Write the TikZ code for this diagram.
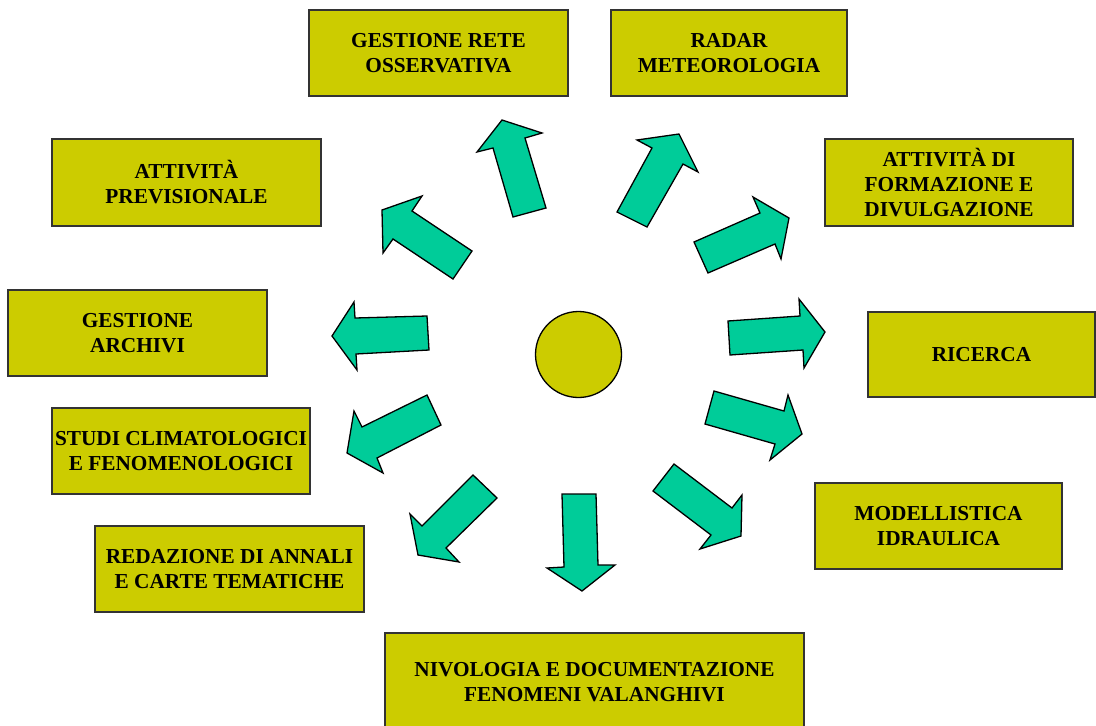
\documentclass[tikz,border=0pt]{standalone}
\usepackage{fontspec}
\setmainfont{Liberation Serif}
\definecolor{boxfill}{RGB}{204,204,0}
\definecolor{arrfill}{RGB}{0,204,153}
\begin{document}
\begin{tikzpicture}[x=1pt,y=-1pt,
  box/.style={draw=black!80, line width=1.4pt, fill=boxfill, inner sep=0pt,
    align=center, font=\fontsize{21.3}{25}\selectfont\bfseries},
  blockarrow/.style={draw=black, line width=1.3pt, fill=arrfill, line join=miter}]
\useasboundingbox (0,0) rectangle (1096,726);
\clip (0,0) rectangle (1096,726);
\fill[white] (0,0) rectangle (1096,726);
% boxes
\node[box, minimum width=259pt, minimum height=86pt] (gro) at (438.5,53) {GESTIONE RETE\\OSSERVATIVA};
\node[box, minimum width=236pt, minimum height=86pt] (radar) at (729,53) {RADAR\\METEOROLOGIA};
\node[box, minimum width=269pt, minimum height=87pt] (prev) at (186.5,182.5) {ATTIVITÀ\\PREVISIONALE};
\node[box, minimum width=248pt, minimum height=87pt] (form) at (949,182.5) {ATTIVITÀ DI\\FORMAZIONE E\\DIVULGAZIONE};
\node[box, minimum width=259pt, minimum height=86pt] (arch) at (137.5,333) {GESTIONE\\ARCHIVI};
\node[box, minimum width=227pt, minimum height=85pt] (ric) at (981.5,354.5) {RICERCA};
\node[box, minimum width=258pt, minimum height=86pt] (studi) at (181,451) {STUDI CLIMATOLOGICI\\E FENOMENOLOGICI};
\node[box, minimum width=247pt, minimum height=86pt] (mod) at (938.5,526) {MODELLISTICA\\IDRAULICA};
\node[box, minimum width=269pt, minimum height=86pt] (red) at (229.5,569) {REDAZIONE DI ANNALI\\E CARTE TEMATICHE};
\node[box, minimum width=419pt, minimum height=98pt] (niv) at (594.5,682) {NIVOLOGIA E DOCUMENTAZIONE\\FENOMENI VALANGHIVI};
% centre
\node[circle, draw=black, line width=1.3pt, fill=boxfill, minimum size=86pt, inner sep=0pt] (hub) at (578.5,354.5) {};
% block arrows
\draw[blockarrow] (502,120) -- (542,133) -- (525,138) -- (546,208) -- (513,217) -- (493,148) -- (477,152) -- cycle;
\draw[blockarrow] (679,134) -- (698,172) -- (683,164) -- (647,227) -- (617,212) -- (652,148) -- (637,140) -- cycle;
\draw[blockarrow] (382,210) -- (422,196) -- (412,211) -- (472,251) -- (453,279) -- (393,239) -- (383,253) -- cycle;
\draw[blockarrow] (694,242) -- (760,213) -- (753,197) -- (789,218) -- (781,259) -- (775,244) -- (708,273) -- cycle;
\draw[blockarrow] (332,336) -- (354,302) -- (355,318) -- (427,316) -- (429,350) -- (356,354) -- (357,370) -- cycle;
\draw[blockarrow] (728,321) -- (800,316) -- (799,299) -- (825,332) -- (804,368) -- (803,350) -- (730,355) -- cycle;
\draw[blockarrow] (714,391) -- (784,411) -- (788,395) -- (802,434) -- (770,460) -- (775,444) -- (705,424) -- cycle;
\draw[blockarrow] (427,395) -- (362,427) -- (354,411) -- (347,453) -- (383,473) -- (377,458) -- (441,425) -- cycle;
\draw[blockarrow] (473,475) -- (422,526) -- (410,514) -- (418,555) -- (459,562) -- (446,548) -- (497,498) -- cycle;
\draw[blockarrow] (562,494) -- (596,494) -- (598,565) -- (615,565) -- (582,591) -- (547,568) -- (564,567) -- cycle;
\draw[blockarrow] (674,464) -- (732,508) -- (742,495) -- (741,536) -- (700,549) -- (711,535) -- (653,491) -- cycle;
\end{tikzpicture}
\end{document}
